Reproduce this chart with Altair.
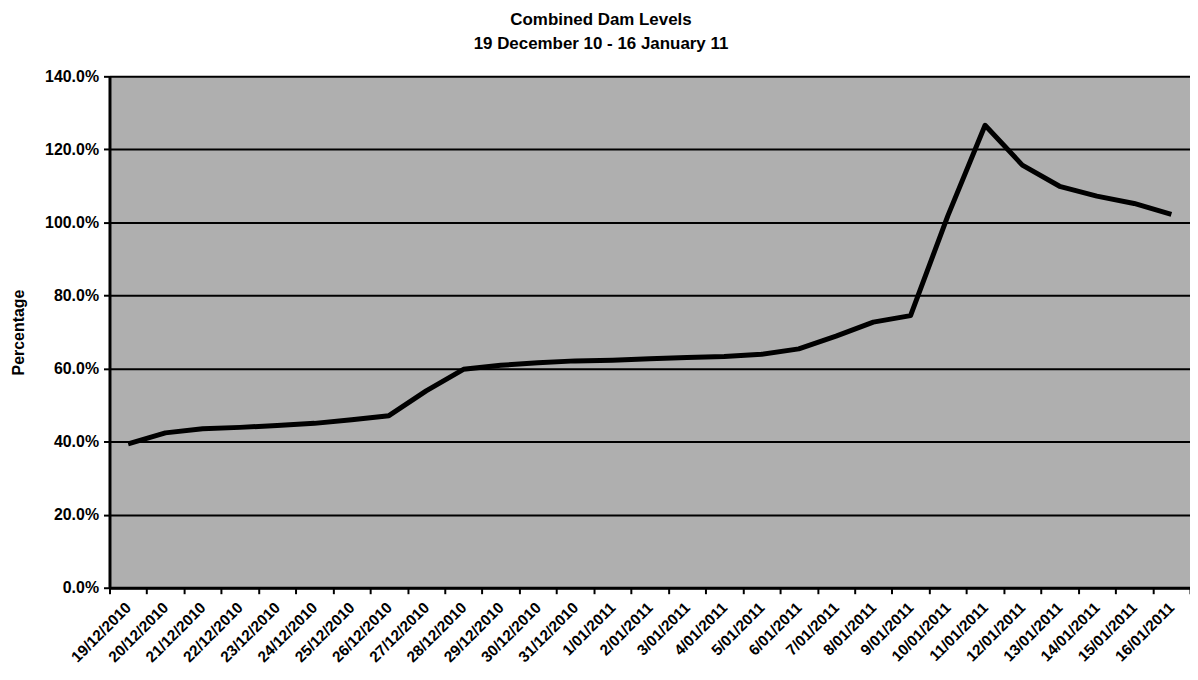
import altair as alt
import pandas as pd

# Categories (dates) and combined dam levels (fraction of full capacity)
dates = [
    "19/12/2010", "20/12/2010", "21/12/2010", "22/12/2010", "23/12/2010",
    "24/12/2010", "25/12/2010", "26/12/2010", "27/12/2010", "28/12/2010",
    "29/12/2010", "30/12/2010", "31/12/2010", "1/01/2011", "2/01/2011",
    "3/01/2011", "4/01/2011", "5/01/2011", "6/01/2011", "7/01/2011",
    "8/01/2011", "9/01/2011", "10/01/2011", "11/01/2011", "12/01/2011",
    "13/01/2011", "14/01/2011", "15/01/2011", "16/01/2011",
]
levels = [
    0.394, 0.424, 0.435, 0.439, 0.444,
    0.450, 0.460, 0.471, 0.539, 0.598,
    0.609, 0.616, 0.621, 0.623, 0.627,
    0.630, 0.633, 0.639, 0.654, 0.689,
    0.727, 0.745, 1.018, 1.266, 1.157,
    1.099, 1.072, 1.052, 1.022,
]
y_ticks = [0.0, 0.2, 0.4, 0.6, 0.8, 1.0, 1.2, 1.4]

df = pd.DataFrame({"date": dates, "level": levels})

FONT = "Liberation Sans"

x = alt.X(
    "date:N",
    sort=dates,
    bandPosition=0.5,
    scale=alt.Scale(type="band", paddingInner=0, paddingOuter=0),
    axis=alt.Axis(
        title=None,
        labelAngle=-45,
        labelAlign="right",
        labelBaseline="middle",
        labelFont=FONT,
        labelFontWeight="bold",
        labelFontSize=15.5,
        labelColor="black",
        labelPadding=11,
        tickBand="extent",
        tickColor="black",
        tickSize=6,
        tickWidth=2,
        domainColor="black",
        domainWidth=3,
        grid=False,
    ),
)

y = alt.Y(
    "level:Q",
    scale=alt.Scale(domain=[0, 1.4], nice=False, zero=True),
    axis=alt.Axis(
        values=y_ticks,
        format=".1%",
        title="Percentage",
        titleFont=FONT,
        titleFontSize=16,
        titleFontWeight="bold",
        titleColor="black",
        titlePadding=18,
        labelFont=FONT,
        labelFontSize=16,
        labelFontWeight="bold",
        labelColor="black",
        labelPadding=5,
        grid=True,
        gridColor="black",
        gridWidth=2,
        gridOpacity=1,
        domainColor="black",
        domainWidth=3,
        tickColor="black",
        tickSize=6,
        tickWidth=2,
    ),
)

chart = (
    alt.Chart(df)
    .mark_line(color="black", strokeWidth=5, strokeJoin="round")
    .encode(x=x, y=y)
    .properties(
        width=1086,
        height=514,
        padding={"left": 102, "top": 67, "right": 0, "bottom": 80},
        autosize=alt.AutoSizeParams(type="none"),
        title=alt.TitleParams(
            text=["Combined Dam Levels", "19 December 10 - 16 January 11"],
            font=FONT,
            fontSize=17,
            fontWeight="bold",
            color="black",
            anchor="middle",
            frame="group",
            dx=-49,
            offset=15,
            lineHeight=25,
        ),
        background="white",
    )
    .configure_view(fill="#afafaf", stroke=None)
)

chart.save("out.html", embed_options={"renderer": "svg", "actions": False})
